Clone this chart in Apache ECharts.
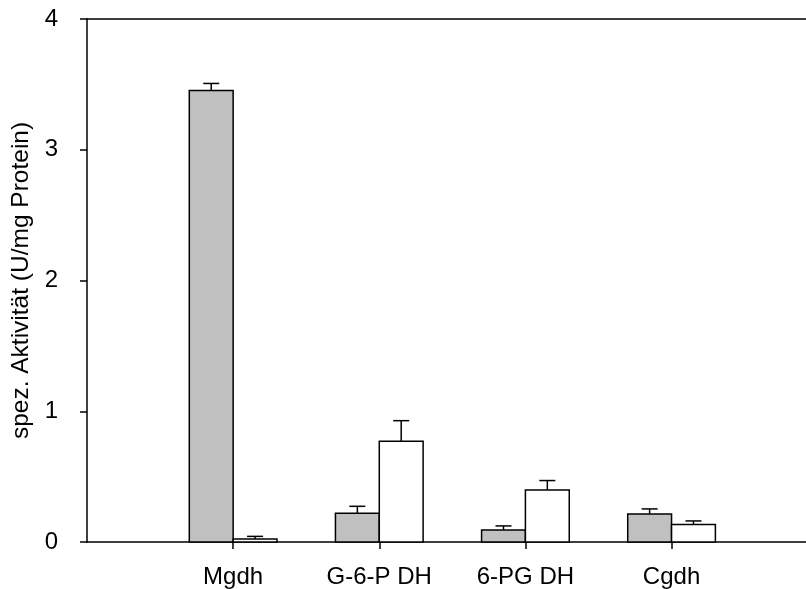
<!DOCTYPE html>
<html>
<head>
<meta charset="utf-8">
<script src="https://cdn.jsdelivr.net/npm/echarts@6/dist/echarts.min.js"></script>
<style>
html,body{margin:0;padding:0;background:#fff;}
#chart{width:806px;height:589px;}
</style>
</head>
<body>
<div id="chart"></div>
<script>
// ---- data ----
var categories = ['Mgdh', 'G-6-P DH', '6-PG DH', 'Cgdh'];
var grayValues = [3.453, 0.219, 0.092, 0.215];
var grayErrors = [0.054, 0.054, 0.031, 0.038];
var whiteValues = [0.023, 0.770, 0.398, 0.133];
var whiteErrors = [0.020, 0.158, 0.072, 0.028];
var yTicks = [0, 1, 2, 3, 4];

var FONT = '"Liberation Sans", Arial, sans-serif';
var BAR_W = 0.3; // bar width in category units

function makeData(vals, errs) {
  return vals.map(function (v, i) { return [i + 1, v, errs[i]]; });
}

function barRenderer(side) {
  return function (params, api) {
    var x = api.value(0), v = api.value(1), e = api.value(2);
    var x0 = side < 0 ? x - BAR_W : x;
    var x1 = side < 0 ? x : x + BAR_W;
    var pBL = api.coord([x0, 0]);
    var pTR = api.coord([x1, v]);
    var pTop = api.coord([(x0 + x1) / 2, v + e]);
    var pMid = api.coord([(x0 + x1) / 2, v]);
    var capHalf = 8;
    return {
      type: 'group',
      children: [
        {
          type: 'rect',
          shape: { x: pBL[0], y: pTR[1], width: pTR[0] - pBL[0], height: pBL[1] - pTR[1] },
          style: { fill: side < 0 ? '#c0c0c0' : '#ffffff', stroke: '#000', lineWidth: 1.5 }
        },
        {
          type: 'line',
          shape: { x1: pMid[0], y1: pMid[1], x2: pTop[0], y2: pTop[1] },
          style: { stroke: '#000', lineWidth: 1.5 }
        },
        {
          type: 'line',
          shape: { x1: pTop[0] - capHalf, y1: pTop[1], x2: pTop[0] + capHalf, y2: pTop[1] },
          style: { stroke: '#000', lineWidth: 1.5 }
        }
      ]
    };
  };
}

var chart = echarts.init(document.getElementById('chart'), null, { renderer: 'canvas' });
chart.setOption({
  animation: false,
  backgroundColor: '#fff',
  grid: { left: 87, right: 0, top: 19, bottom: 46, containLabel: false },
  xAxis: [
    {
      type: 'value', min: 0, max: 4.92, position: 'bottom',
      splitLine: { show: false },
      axisLine: { show: true, onZero: false, lineStyle: { color: '#000', width: 1.5 } },
      axisTick: { show: true, inside: false, length: 7, customValues: [1, 2, 3, 4], lineStyle: { color: '#000', width: 1.5 } },
      axisLabel: {
        show: true, customValues: [1, 2, 3, 4], margin: 23,
        fontFamily: FONT, fontSize: 24, color: '#000',
        formatter: function (v) { return categories[Math.round(v) - 1] || ''; }
      }
    },
    {
      type: 'value', min: 0, max: 4.92, position: 'top',
      splitLine: { show: false },
      axisLine: { show: true, onZero: false, lineStyle: { color: '#000', width: 1.5 } },
      axisTick: { show: false }, axisLabel: { show: false }
    }
  ],
  yAxis: {
    type: 'value', min: yTicks[0], max: yTicks[yTicks.length - 1], interval: 1,
    name: 'spez. Aktivität (U/mg Protein)', nameLocation: 'middle', nameGap: 53,
    nameTextStyle: { fontFamily: FONT, fontSize: 24.5, color: '#000' },
    splitLine: { show: false },
    axisLine: { show: true, lineStyle: { color: '#000', width: 1.5 } },
    axisTick: { show: true, inside: false, length: 7, lineStyle: { color: '#000', width: 1.5 } },
    axisLabel: { margin: 29, fontFamily: FONT, fontSize: 24, color: '#000' }
  },
  series: [
    { type: 'custom', renderItem: barRenderer(-1), data: makeData(grayValues, grayErrors), encode: { x: 0, y: [1, 2] }, clip: false },
    { type: 'custom', renderItem: barRenderer(1), data: makeData(whiteValues, whiteErrors), encode: { x: 0, y: [1, 2] }, clip: false }
  ]
});
</script>
</body>
</html>
